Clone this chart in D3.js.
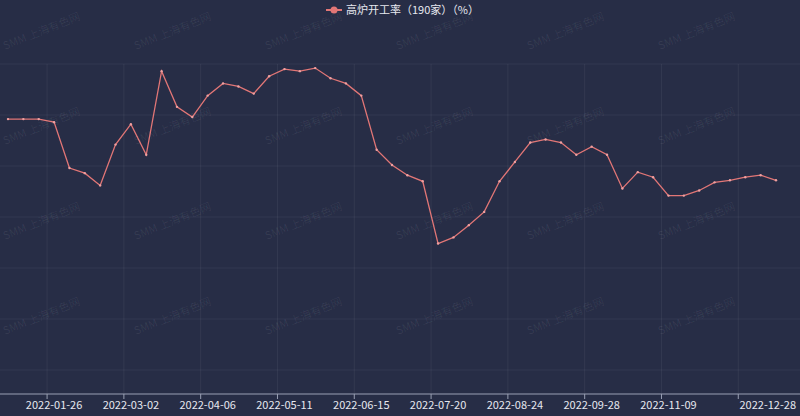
<!DOCTYPE html><html><head><meta charset="utf-8"><script src="https://cdn.jsdelivr.net/npm/d3@7"></script>
<style>body{margin:0;background:#272d46}svg{display:block}</style></head><body><svg id="c" width="800" height="416"></svg>
<script>
const dates=["2022-01-05","2022-01-12","2022-01-19","2022-01-26","2022-02-02","2022-02-09","2022-02-16","2022-02-23","2022-03-02","2022-03-09","2022-03-16","2022-03-23","2022-03-30","2022-04-06","2022-04-13","2022-04-20","2022-04-27","2022-05-04","2022-05-11","2022-05-18","2022-05-25","2022-06-01","2022-06-08","2022-06-15","2022-06-22","2022-06-29","2022-07-06","2022-07-13","2022-07-20","2022-07-27","2022-08-03","2022-08-10","2022-08-17","2022-08-24","2022-08-31","2022-09-07","2022-09-14","2022-09-21","2022-09-28","2022-10-12","2022-10-19","2022-10-26","2022-11-02","2022-11-09","2022-11-16","2022-11-23","2022-11-30","2022-12-07","2022-12-14","2022-12-21","2022-12-28"];
const values=[84.6,84.6,84.6,84.3,79.8,79.3,78.1,82.1,84.1,81.1,89.3,85.8,84.8,86.9,88.1,87.8,87.1,88.8,89.5,89.3,89.6,88.6,88.1,86.9,81.6,80.1,79.1,78.5,72.4,73.0,74.2,75.5,78.5,80.4,82.3,82.6,82.3,81.1,81.9,81.1,77.8,79.4,78.9,77.1,77.1,77.6,78.4,78.6,78.9,79.1,78.6];
const yTicks=[60,65,70,75,80,85,90];
const tickIdx=[3,8,13,18,23,28,33,38,43,48];
const labelIdx=[3,8,13,18,23,28,33,38,43,50];
const seriesName="高炉开工率（190家）（%）";
const svg=d3.select("#c");
const x=d3.scaleLinear().domain([0,dates.length-1]).range([8,776]);
const y=d3.scaleLinear().domain([57.65,90]).range([394,64]);
const g=svg.append("g");
const wm=svg.append("g").attr("fill","#ffffff").attr("fill-opacity",0.07).attr("font-size",11).attr("font-family","Noto Sans CJK SC");
for(let r=0;r<4;r++)for(let c=0;c<6;c++){
  const px=5+c*131, py=50+r*95;
  wm.append("text").attr("transform",`translate(${px},${py}) rotate(-22)`).text("SMM 上海有色网");
}
g.selectAll(".h").data(yTicks).join("line").attr("x1",0).attr("x2",800).attr("y1",d=>y(d)).attr("y2",d=>y(d)).attr("stroke","#ffffff").attr("stroke-opacity",0.06);
g.selectAll(".v").data(tickIdx).join("line").attr("x1",d=>x(d)-7).attr("x2",d=>x(d)-7).attr("y1",64).attr("y2",394).attr("stroke","#ffffff").attr("stroke-opacity",0.06);
g.append("line").attr("x1",0).attr("x2",800).attr("y1",394).attr("y2",394).attr("stroke","#9aa0b4").attr("stroke-width",1);
g.selectAll(".tk").data(tickIdx).join("line").attr("x1",d=>x(d)-7).attr("x2",d=>x(d)-7).attr("y1",394).attr("y2",399).attr("stroke","#9aa0b4");
g.selectAll(".lb").data(labelIdx).join("text").attr("x",d=>x(d)).attr("y",409).attr("text-anchor",d=>d===50?"end":"middle").attr("dx",d=>d===50?20:0).attr("fill","#e6e8ef").attr("font-size",11).attr("font-family","Noto Sans CJK SC").text(d=>dates[d]);
const line=d3.line().x((d,i)=>x(i)).y(d=>y(d));
g.append("path").datum(values).attr("d",line).attr("fill","none").attr("stroke","#e27676").attr("stroke-width",1.3);
g.selectAll(".pt").data(values).join("circle").attr("cx",(d,i)=>x(i)).attr("cy",d=>y(d)).attr("r",1.2).attr("fill","#f0a0a0");
const lg=svg.append("g").attr("transform","translate(330,10)");
lg.append("line").attr("x1",-4).attr("x2",12).attr("y1",0).attr("y2",0).attr("stroke","#e27676").attr("stroke-width",2);
lg.append("circle").attr("cx",4).attr("cy",0).attr("r",3.5).attr("fill","#e27676");
lg.append("text").attr("x",16).attr("y",4).attr("fill","#e6e8ef").attr("font-size",11).attr("font-family","Noto Sans CJK SC").text(seriesName);
</script></body></html>
